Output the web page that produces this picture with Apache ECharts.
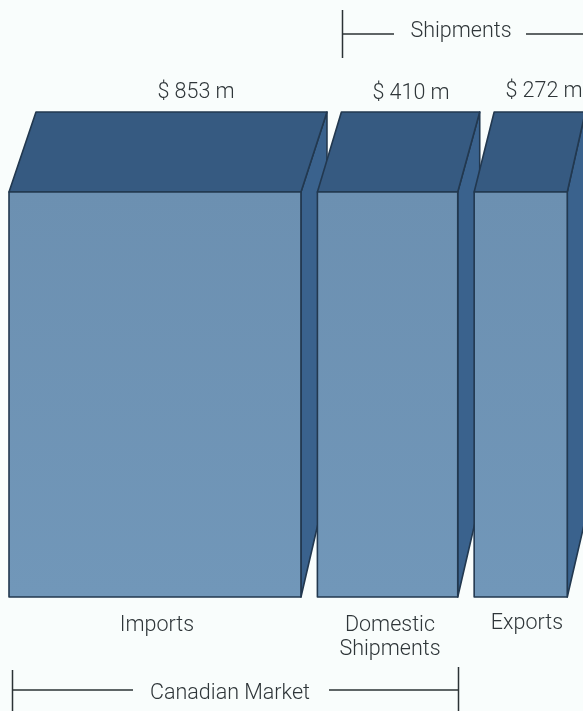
<!DOCTYPE html>
<html>
<head>
<meta charset="utf-8">
<style>
  html, body { margin: 0; padding: 0; background: #f9fdfc; }
  #chart { width: 583px; height: 711px; }
</style>
<script src="https://cdn.jsdelivr.net/npm/echarts@6/dist/echarts.min.js"></script>
</head>
<body>
<div id="chart"></div>
<script>
// Canadian market: imports and domestic shipments; shipments: domestic and exports.
const categories = ['Imports', 'Domestic\nShipments', 'Exports'];
const valuesMillions = [853, 410, 272];
const boxHeight = [1, 1, 1];

// Box drawing parameters
const GAP_UNITS = 48;        // space between boxes, in $ m on the width axis
const TOP_RISE = 80;         // vertical depth of the top face, px
const SIDE_SLOPE = 4.3;      // rise of the side's lower edge per px of depth
const DEPTH_LEFT = [27, 24, 20];
const DEPTH_RIGHT = [26, 22, 18];
const FRONT_UPPER = '#6c90b1', FRONT_LOWER = '#7197b9';
const TOP = '#365a81', SIDE = '#3a628d', EDGE = '#22384f';
const INK = '#2f3639';
const FONT = 'Roboto';

// Box widths are proportional to dollars, laid end to end with a small gap.
let cursor = 0;
const spans = valuesMillions.map((v, i) => {
  const row = [cursor, cursor + v, boxHeight[i], i];
  cursor += v + GAP_UNITS;
  return row;
});

function renderBox(params, api) {
  const i = api.value(3);
  const [xl, yb] = api.coord([api.value(0), 0]);
  const [xr, yt] = api.coord([api.value(1), api.value(2)]);
  const dl = DEPTH_LEFT[i], dr = DEPTH_RIGHT[i];
  const edge = { stroke: EDGE, lineWidth: 1.6, lineJoin: 'round' };
  const frontFill = new echarts.graphic.LinearGradient(0, 0, 0, 1, [
    { offset: 0, color: FRONT_UPPER },
    { offset: 1, color: FRONT_LOWER }
  ]);
  return {
    type: 'group',
    children: [
      { type: 'polygon', z2: i * 3,
        shape: { points: [[xr, yt], [xr + dr, yt - TOP_RISE], [xr + dr, yb - dr * SIDE_SLOPE], [xr, yb]] },
        style: Object.assign({ fill: SIDE }, edge) },
      { type: 'polygon', z2: i * 3 + 1,
        shape: { points: [[xl, yt], [xl + dl, yt - TOP_RISE], [xr + dr, yt - TOP_RISE], [xr, yt]] },
        style: Object.assign({ fill: TOP }, edge) },
      { type: 'rect', z2: i * 3 + 2,
        shape: { x: xl, y: yt, width: xr - xl, height: yb - yt },
        style: Object.assign({ fill: frontFill }, edge) }
    ]
  };
}

function label(text, cx, cy) {
  return { type: 'text', x: cx, y: cy + 2, z: 10,
    style: { text, fill: INK, font: `300 21.5px ${FONT}`, align: 'center', verticalAlign: 'middle', lineHeight: 24 } };
}
function rule(x1, y1, x2, y2) {
  return { type: 'line', z: 10, shape: { x1, y1, x2, y2 }, style: { stroke: '#2b3235', lineWidth: 1.5 } };
}

const valueLabelCentres = [[196, 91], [411, 92], [544, 90]];
const categoryLabelCentres = [[157, 624], [390, 636], [527, 622]];

const annotations = [
  ...valuesMillions.map((v, i) => label(`$ ${v} m`, ...valueLabelCentres[i])),
  ...categories.map((c, i) => label(c, ...categoryLabelCentres[i])),
  label('Shipments', 461, 30),
  rule(342.5, 10, 342.5, 58), rule(342, 34, 394, 34), rule(526, 34, 583, 34),
  label('Canadian Market', 230, 692),
  rule(12.5, 670, 12.5, 711), rule(12, 690, 133, 690), rule(329, 690, 458, 690), rule(458.5, 667, 458.5, 711)
];

const chart = echarts.init(document.getElementById('chart'), null, { renderer: 'canvas' });
chart.setOption({
  animation: false,
  backgroundColor: '#f9fdfc',
  grid: { left: 9, right: 0, top: 192, bottom: 114 },
  xAxis: { type: 'value', min: 0, max: 1677, show: false },
  yAxis: { type: 'value', min: 0, max: 1, show: false },
  series: [{
    type: 'custom',
    coordinateSystem: 'cartesian2d',
    encode: { x: [0, 1], y: 2 },
    renderItem: renderBox,
    data: spans
  }],
  graphic: annotations
});
</script>
</body>
</html>
